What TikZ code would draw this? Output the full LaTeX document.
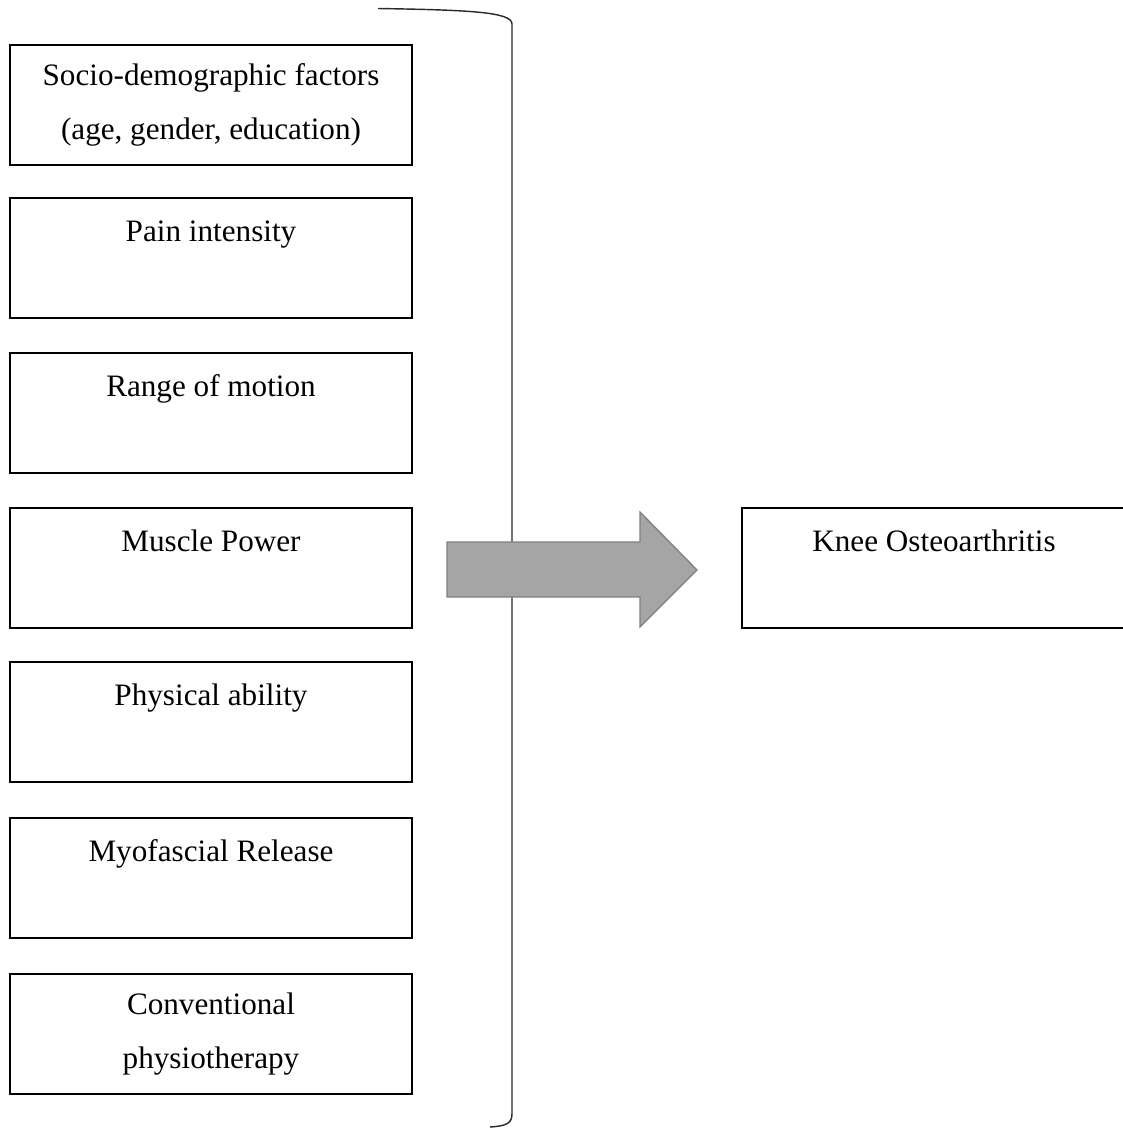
\documentclass[tikz,border=0pt]{standalone}
\usepackage{fontspec}
\setmainfont{Liberation Serif}
\usetikzlibrary{calc}
\definecolor{arrowfill}{HTML}{A5A5A5}
\definecolor{arrowedge}{HTML}{7F7F7F}
\definecolor{bracegray}{HTML}{2A2A2A}
\tikzset{
	factor/.style={draw, line width=0.77pt, inner sep=0pt, outer sep=0pt,
		minimum width=154.77pt, minimum height=46.2pt, align=center,
		font=\fontsize{12}{20.8}\selectfont},
}

\begin{document}
\begin{tikzpicture}[x=0.385pt, y=-0.385pt]
			%%%%% START %%%%%
			\useasboundingbox (0, 0) rectangle (1122, 1128);
			
			\draw[line width=0.55pt, color=bracegray] (378, 8.5) .. controls (470, 10) and (512, 12) .. (512, 24) -- (512, 1114) .. controls (512, 1124) and (505, 1126) .. (490, 1127);
			
			\node[factor] (socio) at (211, 105) {Socio-demographic factors\\(age, gender, education)};
			\node[factor] (pain) at (211, 258) {Pain intensity\\~};
			\node[factor] (motion) at (211, 413) {Range of motion\\~};
			\node[factor] (power) at (211, 568) {Muscle Power\\~};
			\node[factor] (ability) at (211, 722) {Physical ability\\~};
			\node[factor] (release) at (211, 878) {Myofascial Release\\~};
			\node[factor] (physio) at (211, 1034) {Conventional\\physiotherapy};
			
			\draw[fill=arrowfill, draw=arrowedge, line width=0.5pt] (447, 542) -- (640, 542) -- (640, 512) -- (697, 570) -- (640, 627) -- (640, 597) -- (447, 597) -- cycle;
			
			\node[factor, minimum width=147.84pt] (knee) at (934, 568) {Knee Osteoarthritis\\~};
			%%%%% END %%%%%
\end{tikzpicture}
\end{document}
